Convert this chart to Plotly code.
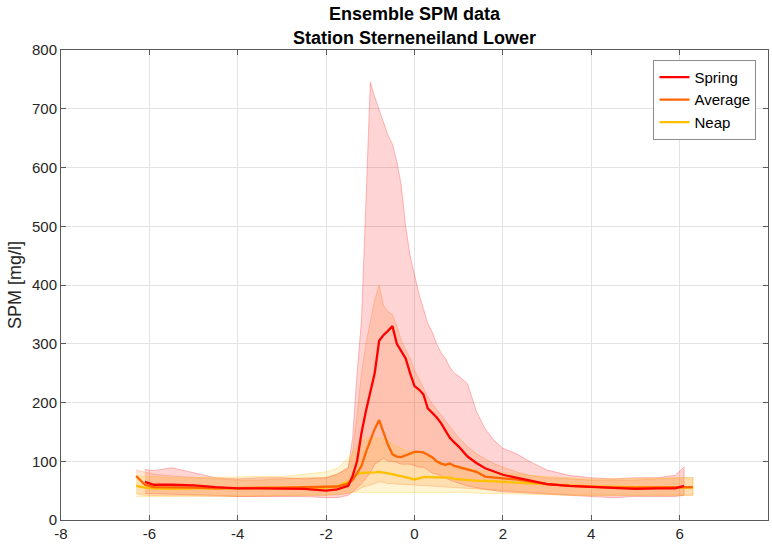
import plotly.graph_objects as go

# Tidal hour grid (hours relative to HW)
hours = [-6.3, -6.1, -5.9, -5.5, -5.0, -4.5, -4.0, -3.5, -3.0, -2.5, -2.0, -1.75,
         -1.5, -1.4, -1.3, -1.2, -1.1, -1.0, -0.9, -0.8, -0.7, -0.6, -0.5, -0.4,
         -0.3, -0.2, -0.1, 0.0, 0.1, 0.2, 0.3, 0.4, 0.5, 0.6, 0.7, 0.8, 0.9, 1.0,
         1.2, 1.4, 1.6, 1.8, 2.0, 2.3, 2.6, 3.0, 3.5, 4.0, 4.5, 5.0, 5.5, 5.9, 6.1, 6.3]

# Spring series (defined from -6.1 to 6.1)
spring_hours = hours[1:-1]
spring_mean = [65, 60, 60, 59, 56, 54, 54, 54, 53, 50, 52,
               58, 75, 100, 148, 185, 216, 250, 305, 315, 322, 330, 300,
               288, 275, 250, 228, 222, 214, 190, 182, 175, 165, 152, 140, 132, 125,
               108, 97, 88, 82, 77, 72, 67, 61, 58, 56, 54, 53, 54, 54, 58]
spring_upper = [86, 84, 89, 80, 72, 70, 72, 72, 70, 72, 78,
                88, 140, 250, 340, 540, 745, 720, 698, 675, 655, 640, 610,
                570, 500, 450, 415, 385, 360, 335, 320, 300, 285, 275, 260, 250, 245,
                232, 185, 155, 136, 122, 113, 100, 85, 76, 72, 70, 72, 72, 76, 90]
spring_lower = [45, 44, 44, 43, 42, 40, 40, 40, 40, 38, 38,
                42, 48, 55, 62, 70, 80, 95, 100, 105, 100, 100, 98,
                95, 95, 95, 92, 90, 90, 85, 80, 78, 75, 72, 68, 65, 62,
                58, 55, 52, 50, 48, 47, 45, 44, 42, 40, 38, 40, 40, 40, 42]

average_mean = [75, 60, 56, 55, 55, 54, 54, 54, 55, 56, 56, 57,
                62, 68, 80, 92, 115, 136, 155, 170, 148, 128, 112, 108,
                107, 110, 114, 116, 116, 115, 111, 107, 100, 96, 94, 96, 92, 90,
                87, 82, 74, 72, 71, 69, 66, 61, 58, 56, 55, 55, 55, 55, 56, 56]
average_upper = [85, 82, 78, 75, 72, 70, 68, 68, 70, 72, 72, 78,
                 90, 115, 180, 250, 300, 340, 375, 400, 365, 355, 350, 330,
                 306, 290, 275, 255, 240, 225, 210, 198, 188, 178, 168, 160, 150, 140,
                 125, 113, 104, 96, 90, 82, 76, 72, 70, 68, 68, 68, 70, 72, 72, 72]
average_lower = [45, 42, 42, 42, 41, 40, 40, 40, 41, 42, 42, 43,
                 45, 47, 50, 55, 57, 60, 62, 65, 64, 62, 62, 61,
                 60, 60, 60, 60, 60, 59, 59, 58, 58, 57, 57, 56, 56, 55,
                 54, 53, 52, 51, 50, 48, 47, 45, 43, 42, 41, 41, 41, 42, 42, 42]

neap_mean = [58, 55, 54, 53, 54, 54, 54, 54, 54, 55, 55, 57,
             65, 72, 78, 80, 80, 80, 81, 82, 81, 79, 78, 76,
             75, 73, 71, 69, 71, 73, 73, 73, 73, 72, 72, 72, 70, 69,
             68, 67, 67, 66, 65, 64, 63, 61, 59, 57, 56, 55, 55, 55, 55, 55]
neap_upper = [75, 74, 73, 72, 72, 73, 74, 74, 74, 78, 82, 88,
              105, 115, 125, 135, 138, 140, 140, 140, 138, 135, 130, 125,
              122, 118, 116, 115, 112, 110, 108, 105, 102, 98, 96, 95, 93, 92,
              89, 85, 83, 82, 80, 78, 76, 74, 72, 70, 70, 70, 71, 72, 72, 72]
neap_lower = [40, 40, 40, 40, 41, 41, 41, 42, 42, 42, 43, 44,
              46, 47, 48, 48, 48, 48, 48, 48, 48, 48, 48, 48,
              48, 48, 48, 48, 48, 48, 48, 48, 48, 48, 47, 47, 47, 47,
              46, 46, 45, 45, 45, 44, 44, 43, 42, 42, 41, 41, 41, 42, 42, 42]

x_ticks = [-8, -6, -4, -2, 0, 2, 4, 6, 8]
y_ticks = [0, 100, 200, 300, 400, 500, 600, 700, 800]
title_lines = ["Ensemble SPM data", "Station Sterneneiland Lower"]

series = [
    ("Spring", spring_hours, spring_mean, spring_upper, spring_lower, (255, 0, 0)),
    ("Average", hours, average_mean, average_upper, average_lower, (255, 102, 0)),
    ("Neap", hours, neap_mean, neap_upper, neap_lower, (255, 192, 0)),
]

FONT = "Liberation Sans, Arial, sans-serif"

fig = go.Figure()

# shaded bands
for name, xs, m, up, lo, (r, g, b) in series:
    fig.add_trace(go.Scatter(
        x=list(xs) + list(xs)[::-1],
        y=list(up) + list(lo)[::-1],
        fill="toself",
        fillcolor=f"rgba({r},{g},{b},0.17)",
        line=dict(color=f"rgba({r},{g},{b},0.25)", width=1),
        mode="lines", hoverinfo="skip", showlegend=False))

# mean lines: neap below, spring on top
for rank, (name, xs, m, up, lo, (r, g, b)) in reversed(list(enumerate(series))):
    fig.add_trace(go.Scatter(
        x=xs, y=m, mode="lines", name=name, legendrank=rank + 1,
        line=dict(color=f"rgb({r},{g},{b})", width=2.3)))

axis_common = dict(
    showgrid=True, gridcolor="#E3E3E3", gridwidth=1,
    zeroline=False, showline=True, linecolor="#5A5A5A", linewidth=1,
    mirror="ticks", ticks="inside", ticklen=5, tickcolor="#5A5A5A",
    tickfont=dict(family=FONT, size=15, color="#262626"),
)

fig.update_layout(
    width=772, height=547,
    margin=dict(l=61, r=4, t=50, b=27),
    paper_bgcolor="white", plot_bgcolor="white",
    xaxis=dict(range=[-8, 8], tickvals=x_ticks, ticktext=[str(v) for v in x_ticks], **axis_common),
    yaxis=dict(range=[0, 800], tickvals=y_ticks, ticktext=[str(v) for v in y_ticks],
               title=dict(text="SPM [mg/l]", standoff=5,
                          font=dict(family=FONT, size=18, color="#262626")),
               **axis_common),
    legend=dict(x=0.838, y=0.979, xanchor="left", yanchor="top",
                bgcolor="white", bordercolor="#8C8C8C", borderwidth=1,
                font=dict(family=FONT, size=15, color="#000000"),
                itemwidth=30, tracegroupgap=0),
    showlegend=True,
)

for i, line in enumerate(title_lines):
    fig.add_annotation(
        text=f"<b>{line}</b>", xref="paper", yref="paper",
        x=0.5, y=1, yshift=36 - 24 * i, xanchor="center", yanchor="middle",
        showarrow=False, font=dict(family=FONT, size=18, color="#000000"))

fig.write_html("out.html", config={"displayModeBar": False})

with open("out.html", "r", encoding="utf-8") as f:
    html = f.read()
html = html.replace("<body>", '<body style="margin:0;padding:0;">', 1)
html = html.replace("<head>", "<head><style>html,body{margin:0;padding:0;}</style>", 1)
with open("out.html", "w", encoding="utf-8") as f:
    f.write(html)
